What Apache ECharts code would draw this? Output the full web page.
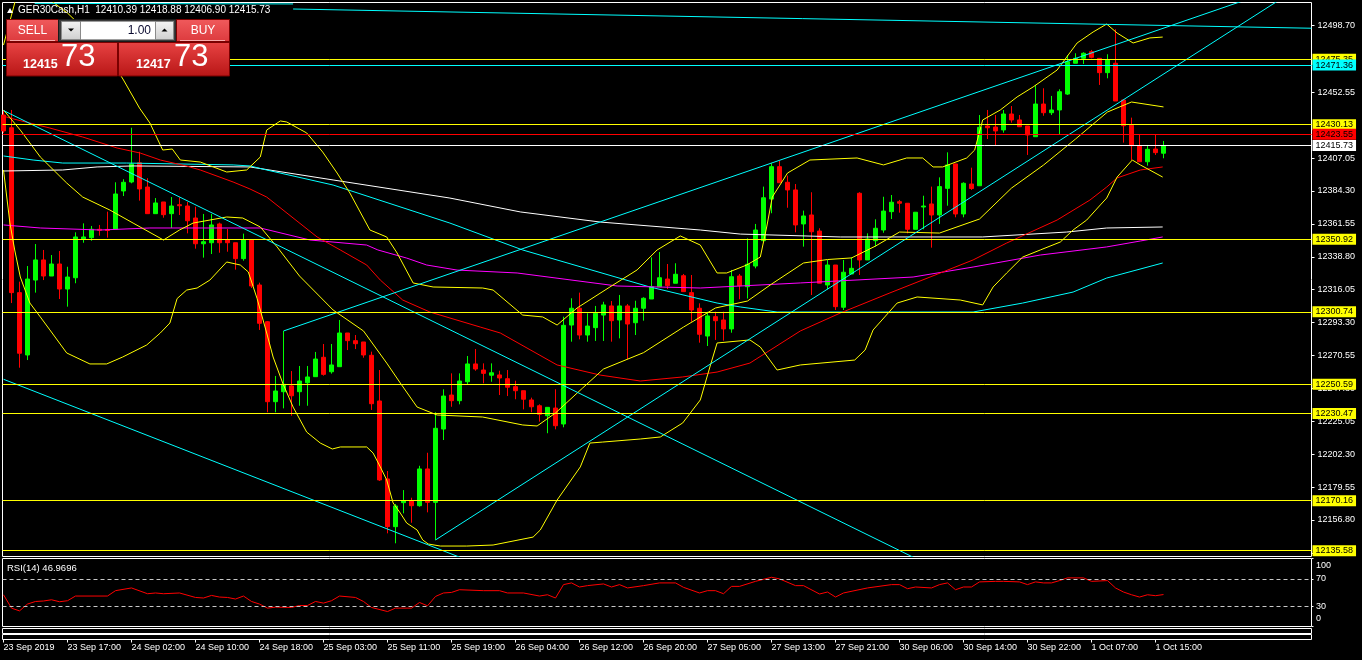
<!DOCTYPE html>
<html>
<head>
<meta charset="utf-8">
<script src="https://cdn.jsdelivr.net/npm/echarts@6/dist/echarts.min.js"></script>
<style>html,body{margin:0;padding:0;background:#000;}#c{width:1362px;height:660px;}</style>
</head>
<body>
<div id="c"></div>
<script>
// ---------------- DATA ----------------
const symbolName = 'GER30Cash,H1';
const open = [12436.8,12428.0,12314.0,12270.9,12322.7,12336.6,12325.5,12333.8,12316.5,12324.3,
12351.1,12352.0,12357.8,12357.7,12358.0,12384.3,12390.5,12403.8,12387.0,12368.6,
12376.7,12368.6,12374.8,12373.9,12365.6,12347.8,12348.5,12361.5,12350.6,12348.5,
12337.5,12350.6,12319.3,12293.9,12238.6,12245.5,12249.5,12245.5,12251.7,12255.9,
12269.3,12259.3,12262.8,12286.1,12280.8,12279.9,12270.7,12239.1,12185.2,12152.2,
12168.8,12170.2,12166.7,12192.1,12169.0,12219.7,12243.2,12239.3,12252.4,12264.7,
12260.5,12256.9,12257.1,12254.5,12249.0,12246.2,12239.8,12235.8,12228.9,12234.2,
12223.2,12291.6,12303.2,12284.7,12289.8,12298.5,12304.8,12295.1,12304.8,12293.2,
12303.2,12309.6,12318.1,12323.4,12320.5,12325.7,12314.0,12303.2,12284.0,12297.4,
12295.1,12288.9,12325.5,12318.1,12332.4,12349.9,12378.7,12401.1,12390.3,12385.0,
12361.5,12367.7,12356.6,12319.3,12333.1,12303.9,12326.9,12382.7,12336.6,12349.9,
12357.3,12370.0,12376.9,12375.8,12357.8,12373.2,12375.3,12367.7,12386.1,12403.0,
12368.4,12389.1,12387.9,12429.2,12428.5,12426.5,12437.5,12433.4,12429.2,12421.8,
12444.4,12438.4,12440.3,12451.3,12472.6,12476.0,12480.6,12476.0,12466.1,12472.6,
12447.2,12429.7,12415.6,12404.5,12413.3,12410.39];
const close = [12425.8,12314.0,12272.1,12323.4,12336.6,12325.5,12333.8,12316.5,12324.8,12352.5,
12352.5,12357.8,12357.1,12357.0,12382.2,12390.3,12402.9,12385.7,12368.6,12376.0,
12367.9,12373.9,12374.1,12363.7,12347.8,12349.2,12360.8,12348.5,12348.5,12337.5,
12350.6,12318.6,12292.8,12238.6,12246.0,12250.6,12242.7,12252.9,12255.7,12268.1,
12257.5,12264.0,12286.1,12280.8,12278.7,12270.9,12237.2,12184.5,12152.2,12166.5,
12170.2,12166.7,12192.1,12169.0,12220.2,12242.5,12239.3,12252.9,12264.7,12261.2,
12258.2,12258.6,12255.0,12248.6,12246.2,12240.3,12235.1,12229.9,12234.7,12222.0,
12291.4,12303.2,12284.7,12290.9,12299.7,12305.5,12294.6,12304.8,12292.3,12303.2,
12310.1,12318.1,12324.3,12318.8,12326.7,12314.7,12302.0,12285.2,12297.9,12294.6,
12288.9,12325.0,12318.8,12333.6,12357.3,12379.6,12401.1,12390.0,12385.0,12360.8,
12367.0,12356.1,12320.5,12333.1,12304.3,12328.1,12330.8,12336.6,12351.1,12358.5,
12370.4,12376.5,12375.8,12357.8,12369.6,12373.9,12367.7,12387.3,12402.3,12368.4,
12389.6,12386.0,12428.3,12428.0,12425.8,12437.5,12433.4,12428.7,12423.0,12444.4,
12438.4,12440.3,12452.9,12473.7,12476.0,12479.5,12476.7,12466.1,12474.9,12446.5,
12429.4,12415.6,12404.5,12413.1,12410.8,12415.73];
const low = [12424.4,12306.8,12262.1,12267.4,12314.0,12322.7,12325.5,12309.6,12304.3,12320.5,
12348.5,12349.9,12353.4,12352.0,12358.0,12380.8,12389.6,12377.6,12368.6,12368.6,
12365.8,12358.7,12367.7,12355.0,12344.4,12338.2,12340.7,12341.6,12342.3,12329.9,
12336.1,12317.2,12288.2,12231.3,12231.3,12234.0,12228.9,12235.8,12235.8,12255.9,
12256.6,12258.0,12262.8,12274.3,12275.0,12269.0,12232.9,12183.8,12147.6,12140.7,
12161.4,12154.9,12166.0,12162.1,12143.0,12212.1,12235.1,12236.8,12250.8,12260.0,
12251.3,12252.4,12243.2,12242.5,12240.3,12233.3,12231.3,12224.8,12216.8,12219.5,
12220.9,12280.1,12281.7,12280.1,12280.6,12280.6,12280.1,12282.4,12267.9,12284.7,
12294.6,12309.6,12318.1,12316.5,12320.5,12314.7,12293.9,12279.4,12277.1,12281.3,
12280.8,12286.3,12309.4,12309.9,12330.8,12349.9,12368.9,12390.0,12372.7,12355.7,
12345.8,12312.4,12320.5,12316.3,12302.0,12302.0,12326.9,12326.2,12336.6,12345.8,
12355.4,12364.9,12369.3,12355.0,12357.8,12357.8,12345.1,12361.5,12374.1,12366.1,
12366.1,12385.0,12387.9,12420.2,12415.4,12424.6,12431.5,12428.7,12409.2,12421.8,
12436.3,12436.8,12423.0,12450.7,12472.6,12472.1,12476.0,12457.6,12462.2,12446.5,
12417.7,12405.7,12404.5,12401.8,12409.2,12406.90];
const high = [12440.3,12440.3,12321.6,12332.4,12347.6,12343.5,12340.0,12342.8,12331.9,12355.7,
12361.9,12360.1,12360.8,12370.0,12390.3,12392.4,12428.0,12411.4,12393.1,12379.4,
12376.7,12380.1,12379.9,12376.7,12373.4,12368.4,12368.4,12362.4,12358.0,12348.5,
12354.8,12350.6,12320.9,12294.4,12256.4,12287.5,12259.8,12263.3,12263.3,12273.0,
12278.5,12278.5,12295.1,12286.1,12284.7,12279.9,12273.2,12260.5,12190.7,12167.9,
12177.5,12172.2,12194.3,12203.3,12231.3,12247.2,12258.2,12258.2,12270.2,12275.0,
12265.1,12265.1,12260.0,12260.5,12253.1,12246.2,12241.4,12236.8,12234.7,12247.2,
12297.4,12310.1,12314.0,12299.7,12304.8,12307.7,12308.2,12312.4,12306.1,12308.4,
12310.8,12338.4,12342.1,12333.8,12334.3,12326.9,12326.2,12306.6,12300.8,12300.8,
12300.8,12329.7,12326.9,12351.6,12361.5,12387.3,12403.4,12405.0,12394.9,12389.1,
12370.7,12383.4,12358.5,12336.6,12333.1,12336.6,12338.4,12383.4,12355.0,12364.7,
12380.3,12381.5,12378.1,12375.8,12369.6,12381.0,12387.3,12393.7,12411.0,12403.0,
12390.3,12400.4,12436.8,12440.3,12436.8,12440.3,12443.0,12436.8,12429.2,12457.6,
12455.3,12450.0,12454.6,12478.3,12479.5,12480.2,12481.8,12476.0,12478.8,12496.1,
12447.2,12435.0,12423.7,12416.1,12423.0,12418.88];

// Indicator lines, read as [bar index, price] vertices
const bbUpper = [[0,12485.2],[1,12505.9],[2,12526.7],[3,12532.2],[5,12519.8],[8,12507.3],[11,12491.4],[13,12479.0],[15,12461.0],[17,12441.6],[18.3,12431.3],[19.9,12412.6],[21.1,12413.3],[22.1,12405.7],[24.6,12404.3],[27.9,12397.4],[30.4,12398.8],[32.1,12407.8],[32.9,12426.4],[34.6,12432.7],[35.4,12432.0],[37.9,12424.4],[39.9,12411.2],[41.7,12396.7],[43.3,12382.9],[45.8,12357.3],[47.9,12352.5],[49.2,12341.4],[51.2,12320.7],[53.7,12317.9],[59.9,12317.2],[61.2,12315.8],[64.9,12298.5],[67.4,12297.2],[69.2,12291.6],[71.7,12303.4],[75.8,12317.9],[79.2,12329.7],[81.7,12343.5],[84.6,12353.2],[87.1,12346.9],[89.2,12327.6],[90.4,12327.6],[92.9,12333.1],[94.6,12338.6],[95.4,12359.4],[96.1,12380.1],[98,12396.7],[100.8,12405.7],[106.7,12407.1],[110,12402.3],[112.9,12407.1],[114.9,12407.1],[116.2,12400.9],[117.4,12400.9],[120.4,12407.1],[121.4,12412.6],[122.4,12433.4],[124.6,12440.3],[126.7,12449.3],[128.7,12456.2],[131.7,12467.9],[134.2,12486.6],[136.2,12494.2],[137.9,12499.7],[139.2,12493.5],[141.2,12486.6],[143.3,12490.1],[144.9,12490.7]];
const bbMiddle = [[0,12440.3],[2.1,12426.4],[4.6,12407.8],[7.9,12389.8],[9.9,12380.1],[13.3,12371.1],[16.2,12362.1],[20,12350.4],[22,12357.3],[23.7,12362.1],[27.9,12366.3],[29.9,12365.6],[32.1,12359.4],[34.2,12345.6],[37,12325.5],[41.2,12302.0],[45,12287.5],[47.9,12265.3],[49.6,12251.5],[51.7,12234.9],[54.2,12229.4],[59.9,12228.0],[64.9,12222.5],[66.7,12221.8],[69,12230.8],[72.4,12248.1],[75,12261.2],[80,12272.5],[85,12290.2],[89,12303.4],[93,12308.2],[96,12319.9],[100,12334.5],[103,12336.9],[106,12338.0],[109,12346.2],[112,12355.9],[117,12355.2],[122,12364.9],[126,12386.3],[130,12402.2],[134,12420.2],[138,12438.9],[141,12445.8],[145,12442.4]];
const bbLower = [[0,12398.8],[0.8,12362.2],[1.4,12343.5],[2.1,12324.8],[3.3,12306.8],[4.6,12297.2],[5.8,12288.2],[7.9,12272.3],[10.8,12264.7],[12.9,12264.7],[14.9,12269.5],[17.9,12277.8],[19.6,12286.1],[20.8,12293.0],[21.7,12309.9],[22.9,12315.8],[24.2,12317.2],[25.8,12322.7],[27.9,12335.2],[29.6,12333.1],[30.6,12328.3],[31.7,12309.9],[32.9,12286.1],[33.7,12269.5],[34.9,12251.5],[36.2,12234.9],[37.9,12217.6],[39.6,12210.0],[41.1,12205.9],[42.1,12207.3],[45.4,12207.3],[46.2,12203.1],[47.1,12193.5],[47.9,12184.5],[48.7,12168.6],[49.6,12161.6],[50.4,12154.7],[51.7,12149.9],[52.4,12143.0],[53.1,12140.2],[54.6,12138.8],[57.9,12138.8],[61.2,12139.5],[66.2,12145.0],[67.1,12149.9],[69.2,12170.6],[72.1,12193.5],[73.3,12210.0],[74.9,12210.7],[79.6,12212.8],[82.1,12214.2],[84.9,12223.9],[87.1,12239.8],[88.3,12262.6],[89.2,12279.2],[93.3,12281.3],[94.6,12276.4],[96.7,12260.5],[99.6,12264.0],[106.4,12267.4],[107.7,12274.3],[108.7,12288.2],[111.7,12306.8],[114.2,12311.0],[119.6,12308.9],[122.4,12305.5],[123.7,12317.9],[125.4,12327.6],[127.4,12338.6],[129.6,12343.5],[132.1,12349.0],[133.7,12357.3],[135.4,12364.2],[137.1,12374.6],[137.9,12379.4],[139.2,12393.9],[141.1,12405.7],[142.1,12402.3],[144.9,12393.9]];
const maRed = [[0,12436.1],[0.8,12434.7],[5.8,12427.8],[9.9,12421.6],[14.2,12414.0],[17.1,12410.5],[19.6,12405.7],[22.9,12401.5],[24.6,12398.8],[28.7,12390.5],[30.8,12385.7],[32.9,12380.1],[39.2,12352.5],[42.1,12343.5],[45.4,12333.1],[47.1,12322.7],[49.9,12308.9],[53.3,12300.6],[59.6,12290.2],[62.1,12286.1],[69.2,12264.0],[74.6,12257.0],[79.6,12252.9],[84.9,12255.7],[89.2,12259.1],[93.3,12265.3],[99.6,12287.5],[104.6,12299.9],[110.8,12313.8],[117.1,12327.6],[121.2,12336.6],[125.4,12348.3],[131.7,12364.2],[135.8,12378.0],[137.9,12387.0],[139.2,12393.3],[142.1,12398.8],[144.9,12400.9]];
const maMagenta = [[0,12360.8],[4.6,12358.7],[12.1,12357.3],[18.3,12358.7],[32.1,12358.7],[38.3,12350.4],[45.4,12346.9],[46.8,12343.5],[50.4,12337.9],[52.9,12333.1],[56.7,12329.6],[64.2,12327.6],[76.7,12318.6],[87.1,12317.2],[99.6,12320.7],[113.7,12324.8],[121.2,12331.7],[129.6,12340.0],[137.9,12345.6],[142.1,12349.7],[144.9,12352.5]];
const maCyan = [[0,12408.5],[3.7,12405.7],[7.4,12403.6],[15.4,12403.6],[28.7,12402.3],[30.8,12401.6],[32.9,12398.8],[41.2,12388.4],[55.8,12362.1],[64.9,12343.5],[80.8,12317.9],[89.2,12306.8],[92.1,12304.1],[96.7,12300.6],[121.2,12300.6],[127.4,12306.8],[133.7,12314.4],[137.9,12324.1],[144.9,12334.5]];
const maWhite = [[0,12398.1],[7.4,12398.8],[11.7,12400.9],[16.2,12401.6],[30.8,12400.9],[41.2,12391.9],[55.8,12379.4],[64.6,12369.8],[74.6,12362.8],[87.1,12357.3],[92.1,12354.5],[104.6,12352.5],[122.4,12352.5],[132.9,12355.9],[137.9,12358.7],[144.9,12359.4]];

// Trend lines: [bar index, price] end points
const trendChannelUpper = [[35,12287.5],[160,12525.4]];
const trendChannelLower = [[54,12143.0],[160,12518.2]];
const trendDown1 = [[0,12439.9],[120,12114.0]];
const trendDown2 = [[0,12254.1],[70,12103.1]];
const trendTopA = [[3.9,12514.0],[36.2,12513.6]];
const trendTopB = [[36.2,12510.1],[163.5,12496.8]];

// Horizontal levels
const levelValues = [12475.35, 12471.36, 12430.13, 12423.55, 12415.73, 12350.92, 12300.74, 12250.59, 12230.47, 12170.16, 12135.58];

// RSI(14): [bar index, value]
const rsi = [[0,46.7],[1,27],[2,23],[3,33],[4,36.8],[5,37.5],[6,39.3],[7,36.4],[8,37.9],[9,44.8],[13,44.8],[14,52.7],[16,56.7],[18,48.2],[19,49.3],[20,48.2],[22,49.3],[24,42.7],[25,41.9],[26,45.7],[27,43.3],[28,42.7],[29,40.4],[30,44.8],[31,36.8],[32,33],[33,27],[34,28.5],[36,28],[37,30.9],[38,30.9],[39,36.8],[40,34.4],[41,37.9],[42,44.8],[44,42.7],[45,36.8],[46,28],[48,22],[49,27],[51,27],[52,35.3],[53,30.4],[54,44.2],[55,49.3],[56,50.1],[57,54.1],[60,52.7],[62,52.7],[63,49.3],[65,49.3],[67,44.8],[68,46.7],[69,41.9],[70,61.6],[71,64.1],[72,58.1],[73,60.1],[75,62.6],[76,58.1],[77,61.6],[78,56.7],[80,60.1],[82,64.1],[84,64.1],[85,57.6],[87,49.3],[88,52.7],[89,52.7],[90,48.2],[91,59],[92,59],[94,66.4],[96,72.4],[97,70],[99,60.1],[100,60.1],[102,47.8],[103,50.7],[104,43.3],[105,49.3],[108,56.7],[111,61.6],[112,61.6],[113,55.6],[114,58.1],[116,56.7],[117,61.6],[118,64.1],[119,54.1],[120,58.1],[121,58.1],[122,65.6],[124,66.4],[125,66.4],[127,65.6],[128,61.6],[129,65.6],[130,64.1],[131,64.1],[132,67.5],[133,71.5],[135,71.5],[136,66.4],[138,67.5],[139,56.7],[140,50.7],[141,46.7],[142,43.3],[143,46.7],[144,45.3],[145,46.9696]];
const rsiLevels = [70, 30];
const rsiTicks = [0, 30, 70, 100];

// Axis ticks
const priceTicks = [12498.70,12452.55,12407.05,12384.30,12361.55,12338.80,12316.05,12293.30,12270.55,12247.80,12225.05,12202.30,12179.55,12156.80,12134.05];
const timeLabels = ["23 Sep 2019","23 Sep 17:00","24 Sep 02:00","24 Sep 10:00","24 Sep 18:00","25 Sep 03:00","25 Sep 11:00","25 Sep 19:00","26 Sep 04:00","26 Sep 12:00","26 Sep 20:00","27 Sep 05:00","27 Sep 13:00","27 Sep 21:00","30 Sep 06:00","30 Sep 14:00","30 Sep 22:00","1 Oct 07:00","1 Oct 15:00"];
const timeLabelBars = [0,8,16,24,32,40,48,56,64,72,80,88,96,104,112,120,128,136,144];
const priceMin = 12131.57, priceMax = 12514.60;
const bidText = ['12415', '73'], askText = ['12417', '73'], lotText = '1.00';

// ---------------- CHART ----------------
const FONT = "'Liberation Sans', Arial, sans-serif";
const X_MIN = -0.125, X_MAX = 163.5;
const GL = 2.5, GW = 1309;
const YELLOW = '#ffff00', CYAN = '#00ffff', RED = '#ff0000', WHITE = '#ffffff', MAGENTA = '#ff00ff';
const levelColors = [YELLOW, CYAN, YELLOW, RED, WHITE, YELLOW, YELLOW, YELLOW, YELLOW, YELLOW, YELLOW];

const chart = echarts.init(document.getElementById('c'), null, {width: 1362, height: 660, renderer: 'canvas'});

const candles = open.map((o, i) => [i, o, close[i], low[i], high[i]]);

function lineSeries(data, color, z) {
  return {type: 'line', xAxisIndex: 0, yAxisIndex: 0, data: data, showSymbol: false, symbol: 'none',
    lineStyle: {color: color, width: 1}, silent: true, z: z || 3, clip: true, animation: false};
}
function grad(c1, c2) {
  return new echarts.graphic.LinearGradient(0, 0, 0, 1, [{offset: 0, color: c1}, {offset: 1, color: c2}]);
}
function txt(x, y, text, font, fill, align, valign) {
  return {type: 'text', z: 101, silent: true, style: {x: x, y: y, text: text, font: font, fill: fill,
    align: align, textAlign: align, verticalAlign: valign, textVerticalAlign: valign}};
}

const xAxes = [0, 1, 2, 3].map(k => ({
  type: 'value', gridIndex: k, min: X_MIN, max: X_MAX, show: k === 3, position: 'bottom',
  axisLine: {show: false, onZero: false}, splitLine: {show: false},
  axisTick: {show: k === 3, customValues: timeLabelBars, length: 3, inside: false, lineStyle: {color: '#fff', width: 1}},
  axisLabel: {show: k === 3, customValues: timeLabelBars, formatter: v => { const j = timeLabelBars.indexOf(Math.round(v)); return j >= 0 ? timeLabels[j] : ''; },
    align: 'left', color: '#fff', fontSize: 9, fontFamily: FONT, margin: 4}
}));

const option = {
  backgroundColor: '#000',
  animation: false,
  textStyle: {fontFamily: FONT},
  grid: [
    {left: GL, top: 2.5, width: GW, height: 554, show: true, borderColor: '#fff', borderWidth: 1},
    {left: GL, top: 558.5, width: GW, height: 68, show: true, borderColor: '#fff', borderWidth: 1},
    {left: GL, top: 628.5, width: GW, height: 5, show: true, borderColor: '#fff', borderWidth: 1},
    {left: GL, top: 634.5, width: GW, height: 5, show: true, borderColor: '#fff', borderWidth: 1}
  ],
  xAxis: xAxes,
  yAxis: [
    {type: 'value', gridIndex: 0, position: 'right', min: priceMin, max: priceMax,
      axisLine: {show: false, onZero: false}, splitLine: {show: false},
      axisTick: {show: true, customValues: priceTicks, length: 3, lineStyle: {color: '#fff'}},
      axisLabel: {customValues: priceTicks, formatter: v => v.toFixed(2), color: '#fff', fontSize: 9, fontFamily: FONT, margin: 6}},
    {type: 'value', gridIndex: 1, position: 'right', min: 0, max: 100,
      axisLine: {show: false, onZero: false}, splitLine: {show: false},
      axisTick: {show: true, customValues: rsiTicks, length: 2, lineStyle: {color: '#fff'}},
      axisLabel: {customValues: rsiTicks, color: '#fff', fontSize: 9, fontFamily: FONT, margin: 4.5,
        formatter: v => v === 100 ? '{t|100}' : (v === 0 ? '{b|0}' : String(v)),
        rich: {t: {color: '#fff', fontSize: 9, fontFamily: FONT, padding: [15, 0, 0, 0]},
               b: {color: '#fff', fontSize: 9, fontFamily: FONT, padding: [0, 0, 15, 0]}}}},
    {type: 'value', gridIndex: 2, min: 0, max: 1, show: false, axisLine: {onZero: false}},
    {type: 'value', gridIndex: 3, min: 0, max: 1, show: false, axisLine: {onZero: false}}
  ],
  series: [
    {type: 'candlestick', xAxisIndex: 0, yAxisIndex: 0, data: candles, encode: {x: 0, y: [1, 2, 3, 4]},
      barWidth: 4, silent: true, z: 2,
      itemStyle: {color: '#00ff00', color0: '#ff0000', borderColor: '#00ff00', borderColor0: '#ff0000', borderWidth: 1}},
    lineSeries(maWhite, WHITE),
    lineSeries(maCyan, CYAN),
    lineSeries(maMagenta, MAGENTA),
    lineSeries(maRed, RED),
    lineSeries(bbUpper, YELLOW),
    lineSeries(bbMiddle, YELLOW),
    lineSeries(bbLower, YELLOW),
    lineSeries(trendChannelUpper, CYAN),
    lineSeries(trendChannelLower, CYAN),
    lineSeries(trendDown1, CYAN),
    lineSeries(trendDown2, CYAN),
    lineSeries(trendTopA, CYAN),
    lineSeries(trendTopB, CYAN),
    {type: 'line', xAxisIndex: 0, yAxisIndex: 0, data: [], silent: true, z: 4,
      markLine: {silent: true, symbol: ['none', 'none'], animation: false,
        data: levelValues.map((v, i) => ({yAxis: v,
          lineStyle: {color: levelColors[i], width: 1, type: 'solid'},
          label: {show: true, position: 'end', distance: 1, formatter: p => Number(p.value).toFixed(2),
            color: '#000', backgroundColor: levelColors[i], fontSize: 9, fontFamily: FONT,
            padding: [1, 3, 0, 3], lineHeight: 10}}))}},
    {type: 'line', xAxisIndex: 1, yAxisIndex: 1, data: rsi, showSymbol: false, symbol: 'none',
      lineStyle: {color: RED, width: 1}, silent: true, z: 3,
      markLine: {silent: true, symbol: ['none', 'none'], animation: false, label: {show: false},
        lineStyle: {color: '#c8c8c8', type: [4, 3], width: 1},
        data: rsiLevels.map(v => ({yAxis: v}))}}
  ],
  graphic: [
    // header
    {type: 'polygon', z: 101, silent: true, shape: {points: [[7, 13], [13, 13], [10, 8]]}, style: {fill: '#fff'}},
    txt(18, 10.5, symbolName + '  ' + open[145].toFixed(2) + ' ' + high[145].toFixed(2) + ' ' + low[145].toFixed(2) + ' ' + close[145].toFixed(2),
      "10px 'Liberation Sans'", '#fff', 'left', 'middle'),
    // one-click trading panel
    {type: 'rect', z: 100, silent: true, shape: {x: 6.5, y: 19.5, width: 52, height: 22}, style: {fill: grad('#f05a5c', '#dc3a3d'), stroke: '#7a0000', lineWidth: 1}},
    {type: 'line', z: 101, silent: true, shape: {x1: 10, y1: 40.5, x2: 55, y2: 40.5}, style: {stroke: '#f7a9a9', lineWidth: 1}},
    txt(32.5, 30.5, 'SELL', "12px 'Liberation Sans'", '#fff', 'center', 'middle'),
    {type: 'rect', z: 100, silent: true, shape: {x: 58.5, y: 19.5, width: 117.5, height: 22}, style: {fill: '#3c3c3c', stroke: '#1a1a1a', lineWidth: 1}},
    {type: 'rect', z: 101, silent: true, shape: {x: 61.5, y: 21.5, width: 19, height: 18}, style: {fill: grad('#f4f4f4', '#cfcfcf'), stroke: '#8a8a8a', lineWidth: 1}},
    {type: 'polygon', z: 102, silent: true, shape: {points: [[68, 28.5], [74, 28.5], [71, 31.5]]}, style: {fill: '#000'}},
    {type: 'rect', z: 101, silent: true, shape: {x: 81, y: 21.5, width: 74.5, height: 18}, style: {fill: '#fff'}},
    txt(151, 31, lotText, "12px 'Liberation Sans'", '#0a0a30', 'right', 'middle'),
    {type: 'rect', z: 101, silent: true, shape: {x: 155.5, y: 21.5, width: 18, height: 18}, style: {fill: grad('#f4f4f4', '#cfcfcf'), stroke: '#8a8a8a', lineWidth: 1}},
    {type: 'polygon', z: 102, silent: true, shape: {points: [[161.5, 31.5], [167.5, 31.5], [164.5, 28.5]]}, style: {fill: '#000'}},
    {type: 'rect', z: 100, silent: true, shape: {x: 176.5, y: 19.5, width: 53, height: 22}, style: {fill: grad('#f05a5c', '#dc3a3d'), stroke: '#7a0000', lineWidth: 1}},
    {type: 'line', z: 101, silent: true, shape: {x1: 180, y1: 40.5, x2: 225, y2: 40.5}, style: {stroke: '#f7a9a9', lineWidth: 1}},
    txt(203, 30.5, 'BUY', "12px 'Liberation Sans'", '#fff', 'center', 'middle'),
    {type: 'rect', z: 100, silent: true, shape: {x: 6.5, y: 42.5, width: 111, height: 33.5}, style: {fill: grad('#e84343', '#b81616'), stroke: '#7a0000', lineWidth: 1}},
    {type: 'rect', z: 100, silent: true, shape: {x: 118.5, y: 42.5, width: 111, height: 33.5}, style: {fill: grad('#e84343', '#b81616'), stroke: '#7a0000', lineWidth: 1}},
    txt(23, 71, bidText[0], "bold 12.5px 'Liberation Sans'", '#fff', 'left', 'bottom'),
    txt(61, 73, bidText[1], "31px 'Liberation Sans'", '#fff', 'left', 'bottom'),
    txt(136, 71, askText[0], "bold 12.5px 'Liberation Sans'", '#fff', 'left', 'bottom'),
    txt(174, 73, askText[1], "31px 'Liberation Sans'", '#fff', 'left', 'bottom'),
    // RSI caption
    txt(7, 568, 'RSI(14) ' + rsi[rsi.length - 1][1].toFixed(4), "9.5px 'Liberation Sans'", '#fff', 'left', 'middle')
  ]
};
chart.setOption(option);
</script>
</body>
</html>
